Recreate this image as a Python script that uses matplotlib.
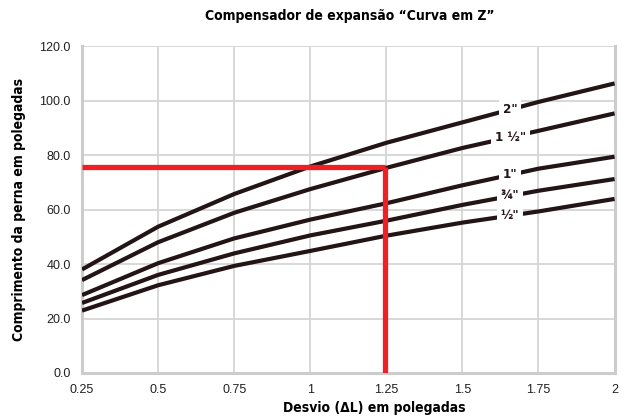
import matplotlib
matplotlib.use('Agg')
import matplotlib.pyplot as plt

# Data
desvio = [0.25, 0.5, 0.75, 1.0, 1.25, 1.5, 1.75, 2.0]
tam_labels = ['2"', '1 ½"', '1"', '¾"', '½"']
perna_2 = [38.0, 53.7, 65.7, 75.8, 84.5, 92.0, 99.5, 106.3]
perna_1_5 = [34.1, 48.0, 58.8, 67.5, 75.3, 82.6, 88.9, 95.3]
perna_1 = [28.6, 40.3, 49.4, 56.3, 62.3, 68.9, 75.0, 79.4]
perna_3_4 = [25.7, 36.0, 43.9, 50.5, 55.9, 61.7, 66.9, 71.2]
perna_1_2 = [22.9, 32.2, 39.3, 44.8, 50.4, 55.2, 59.3, 63.9]
series = [perna_2, perna_1_5, perna_1, perna_3_4, perna_1_2]

# example reading (red guide)
ex_x = 1.245
ex_y = 75.5

xticks = [0.25, 0.5, 0.75, 1, 1.25, 1.5, 1.75, 2]
xtick_labels = ['0.25', '0.5', '0.75', '1', '1.25', '1.5', '1.75', '2']
yticks = [0, 20, 40, 60, 80, 100, 120]

bold_font = ['DejaVu Sans', 'Liberation Sans']
plt.rcParams['font.family'] = ['Liberation Sans', 'DejaVu Sans']

fig = plt.figure(figsize=(6.28, 4.18), dpi=100)
ax = fig.add_axes([0.1306, 0.1077, 0.848, 0.782])

line_color = '#231416'
label_x = 1.657
for vals, lab in zip(series, tam_labels):
    ax.plot(desvio, vals, color=line_color, lw=3, solid_capstyle='butt', zorder=3)
    # y of the line at the label position
    for i in range(len(desvio) - 1):
        if desvio[i] <= label_x <= desvio[i + 1]:
            f = (label_x - desvio[i]) / (desvio[i + 1] - desvio[i])
            ly = vals[i] + f * (vals[i + 1] - vals[i])
    ax.text(label_x, ly, lab, ha='center', va='center', fontsize=9.5,
            fontweight='bold', family=bold_font, fontstretch='condensed',
            color=line_color, zorder=5,
            bbox=dict(boxstyle='square,pad=0.3', fc='white', ec='none'))

red = '#ee2024'
ax.plot([0.25, ex_x], [ex_y, ex_y], color=red, lw=3.8, solid_capstyle='butt', zorder=4)
ax.plot([ex_x, ex_x], [ex_y, 0], color=red, lw=3.8, solid_capstyle='butt', zorder=4)

ax.set_xlim(0.25, 2)
ax.set_ylim(0, 120)
ax.set_xticks(xticks)
ax.set_xticklabels(xtick_labels)
ax.set_yticks(yticks)
ax.set_yticklabels([f'{v:.1f}' for v in yticks])
ax.tick_params(length=0, labelsize=9, colors='#222222', pad=8)
ax.grid(True, color='#d6d6d6', lw=1.3, zorder=0)
ax.set_axisbelow(True)

for side in ['left', 'bottom', 'right']:
    ax.spines[side].set_color('#cccccc')
    ax.spines[side].set_linewidth(2.2)
ax.spines['top'].set_visible(False)

ax.set_xlabel('Desvio (ΔL) em polegadas', fontsize=10, fontweight='bold',
              family=bold_font, fontstretch='condensed')
ax.xaxis.set_label_coords(0.5 + (375 - 348.5) / 533, -0.085)
ax.set_ylabel('Comprimento da perna em polegadas', fontsize=10, fontweight='bold',
              family=bold_font, fontstretch='condensed')
ax.yaxis.set_label_coords(-0.105, 0.5)
fig.text(0.557, 0.962, 'Compensador de expansão “Curva em Z”', ha='center', va='center',
         fontsize=10, fontweight='bold', family=bold_font, fontstretch='condensed')

fig.savefig('out.png', dpi=100)
